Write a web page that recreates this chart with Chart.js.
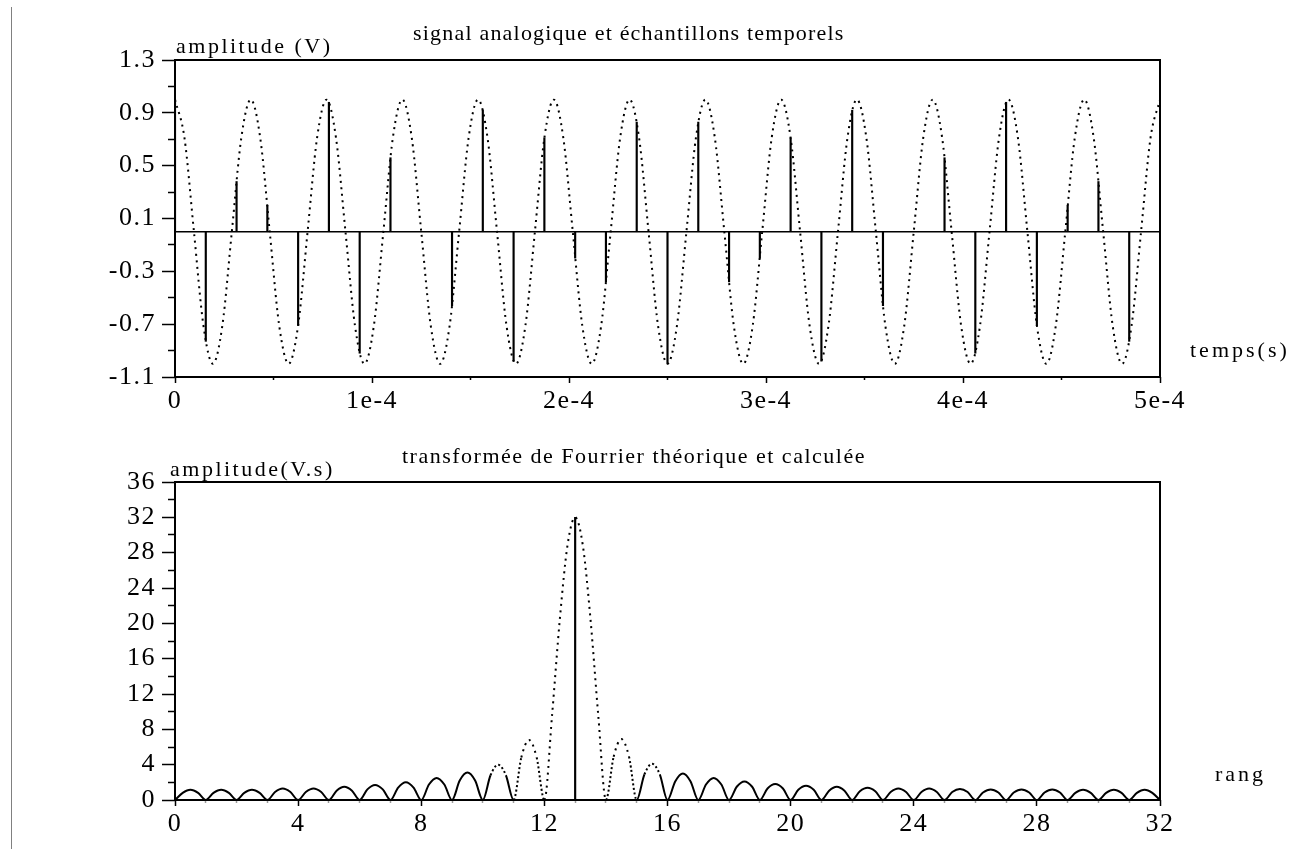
<!DOCTYPE html>
<html lang="fr">
<head>
<meta charset="UTF-8">
<title>Signal analogique et TF</title>
<script src="https://cdn.jsdelivr.net/npm/chart.js"></script>
<style>
  body { margin: 0; background: #fff; }
  #page { position: relative; width: 1307px; height: 849px; overflow: hidden; background: #fff; }
  .bloc { position: absolute; left: 0; width: 1307px; }
  #haut { top: 0; height: 425px; }
  #bas { top: 425px; height: 424px; }
  #trait { position: absolute; left: 11px; top: 7px; width: 1px; height: 842px; background: #808080; }
</style>
</head>
<body>
<div id="page">
  <div id="trait"></div>
  <div class="bloc" id="haut"><canvas id="chartHaut"></canvas></div>
  <div class="bloc" id="bas"><canvas id="chartBas"></canvas></div>
</div>
<script>
// --- données ---

// signal analogique : une valeur tous les 1/8 de période, 13 périodes sur 5e-4 s
const pasSignal = 5e-4 / 104;
const signalAnalogique = [
  1, 0.71, 0, -0.71, -1, -0.71, 0, 0.71,
  1, 0.71, 0, -0.71, -1, -0.71, 0, 0.71,
  1, 0.71, 0, -0.71, -1, -0.71, 0, 0.71,
  1, 0.71, 0, -0.71, -1, -0.71, 0, 0.71,
  1, 0.71, 0, -0.71, -1, -0.71, 0, 0.71,
  1, 0.71, 0, -0.71, -1, -0.71, 0, 0.71,
  1, 0.71, 0, -0.71, -1, -0.71, 0, 0.71,
  1, 0.71, 0, -0.71, -1, -0.71, 0, 0.71,
  1, 0.71, 0, -0.71, -1, -0.71, 0, 0.71,
  1, 0.71, 0, -0.71, -1, -0.71, 0, 0.71,
  1, 0.71, 0, -0.71, -1, -0.71, 0, 0.71,
  1, 0.71, 0, -0.71, -1, -0.71, 0, 0.71,
  1, 0.71, 0, -0.71, -1, -0.71, 0, 0.71,
  1
];

// échantillons : 32 points sur 5e-4 s
const pasEch = 5e-4 / 32;
const echantillons = [
  1, -0.83, 0.38, 0.2, -0.71, 0.98, -0.92, 0.56,
  0, -0.56, 0.92, -0.98, 0.71, -0.2, -0.38, 0.83,
  -1, 0.83, -0.38, -0.2, 0.71, -0.98, 0.92, -0.56,
  0, 0.56, -0.92, 0.98, -0.71, 0.2, 0.38, -0.83
];

// TF théorique : une valeur tous les 1/4 de rang, de 0 à 32
const pasTF = 0.25;
const tfTheorique = [
  0, 0.8, 1.15, 0.8,
  0, 0.8, 1.15, 0.8,
  0, 0.8, 1.15, 0.8,
  0, 0.9, 1.3, 0.9,
  0, 0.9, 1.3, 0.9,
  0, 1.05, 1.5, 1.05,
  0, 1.2, 1.7, 1.2,
  0, 1.4, 2.0, 1.4,
  0, 1.75, 2.5, 1.75,
  0, 2.2, 3.1, 2.2,
  0, 2.8, 4.0, 2.8,
  0, 4.8, 6.8, 4.8,
  0, 9.6, 20.4, 28.8,
  32, 28.8, 20.4, 9.6,
  0, 4.9, 6.9, 4.9,
  0, 2.9, 4.1, 2.9,
  0, 2.1, 3.0, 2.1,
  0, 1.75, 2.5, 1.75,
  0, 1.5, 2.1, 1.5,
  0, 1.3, 1.8, 1.3,
  0, 1.15, 1.6, 1.15,
  0, 1.05, 1.5, 1.05,
  0, 1.0, 1.4, 1.0,
  0, 0.9, 1.3, 0.9,
  0, 0.9, 1.3, 0.9,
  0, 0.9, 1.25, 0.9,
  0, 0.85, 1.2, 0.85,
  0, 0.85, 1.2, 0.85,
  0, 0.85, 1.2, 0.85,
  0, 0.8, 1.15, 0.8,
  0, 0.8, 1.15, 0.8,
  0, 0.8, 1.15, 0.8,
  0
];

// TF calculée (rangs 0 à 31)
const tfCalculee = [
  0, 0, 0, 0, 0, 0, 0, 0,
  0, 0, 0, 0, 0, 32, 0, 0,
  0, 0, 0, 0, 0, 0, 0, 0,
  0, 0, 0, 0, 0, 0, 0, 0
];

// graduations
const ticksTempsMaj = [0, 1e-4, 2e-4, 3e-4, 4e-4, 5e-4];
const labelsTemps = ['0', '1e-4', '2e-4', '3e-4', '4e-4', '5e-4'];
const ticksTempsMin = [0.5e-4, 1.5e-4, 2.5e-4, 3.5e-4, 4.5e-4];
const ticksAmpMaj = [-1.1, -0.7, -0.3, 0.1, 0.5, 0.9, 1.3];
const ticksAmpMin = [-0.9, -0.5, -0.1, 0.3, 0.7, 1.1];
const ticksRangMaj = [0, 4, 8, 12, 16, 20, 24, 28, 32];
const ticksRangMin = [1, 2, 3, 5, 6, 7, 9, 10, 11, 13, 14, 15, 17, 18, 19, 21, 22, 23, 25, 26, 27, 29, 30, 31];
const ticksTFMaj = [0, 4, 8, 12, 16, 20, 24, 28, 32, 36];
const ticksTFMin = [2, 6, 10, 14, 18, 22, 26, 30, 34];

// --- réglages communs ---
Chart.defaults.font.family = "'Liberation Serif', 'Times New Roman', serif";
Chart.defaults.font.size = 26;
Chart.defaults.color = '#000';

function fixeTicks(maj, mineurs) {
  return scale => {
    scale.ticks = maj.concat(mineurs).sort((a, b) => a - b).map(v => ({ value: v }));
  };
}

function estMajeur(c, maj) {
  return c.tick && maj.includes(c.tick.value);
}

function axeY(min, max, maj, mineurs) {
  return {
    type: 'linear', min: min, max: max,
    afterBuildTicks: fixeTicks(maj, mineurs),
    afterFit: s => { s.width = 175; },
    ticks: { autoSkip: false, padding: 6, callback: v => maj.includes(v) ? String(v) : '' },
    grid: {
      drawOnChartArea: false, tickLength: 13, tickColor: '#000', tickWidth: 1.5,
      tickBorderDash: c => estMajeur(c, maj) ? [] : [0, 6, 8, 100]
    },
    border: { display: false }
  };
}

function axeX(min, max, maj, mineurs, labels, hauteur, couleurMin) {
  return {
    type: 'linear', min: min, max: max, offset: false,
    afterBuildTicks: fixeTicks(maj, mineurs),
    afterFit: s => { s.height = hauteur; },
    ticks: {
      autoSkip: false, maxRotation: 0, padding: 3,
      callback: v => { const i = maj.indexOf(v); return i < 0 ? '' : labels[i]; }
    },
    grid: {
      offset: false, drawOnChartArea: false, tickLength: 6, tickWidth: 1.5,
      tickColor: c => estMajeur(c, maj) ? '#000' : couleurMin,
      tickBorderDash: c => estMajeur(c, maj) ? [] : [3, 100]
    },
    border: { display: false }
  };
}

function pluginCadre(ligneZero) {
  return {
    id: 'cadre',
    beforeDraw(chart) {
      chart.ctx.letterSpacing = '1.5px';
    },
    beforeDatasetsDraw(chart) {
      if (!ligneZero) return;
      const a = chart.chartArea, ctx = chart.ctx;
      const y0 = chart.scales.y.getPixelForValue(0);
      ctx.save();
      ctx.strokeStyle = '#000';
      ctx.lineWidth = 1.5;
      ctx.beginPath();
      ctx.moveTo(a.left, y0);
      ctx.lineTo(a.right, y0);
      ctx.stroke();
      ctx.restore();
    },
    afterDraw(chart) {
      const a = chart.chartArea, ctx = chart.ctx;
      ctx.save();
      ctx.strokeStyle = '#000';
      ctx.lineWidth = 2;
      ctx.strokeRect(a.left, a.top, a.right - a.left, a.bottom - a.top);
      ctx.restore();
    }
  };
}

function pluginTextes(textes) {
  return {
    id: 'textes',
    afterDraw(chart) {
      const ctx = chart.ctx;
      ctx.save();
      ctx.fillStyle = '#000';
      ctx.textAlign = 'left';
      ctx.textBaseline = 'alphabetic';
      textes.forEach(t => {
        ctx.font = t.taille + "px 'Liberation Serif'";
        ctx.letterSpacing = t.espace + 'px';
        ctx.fillText(t.texte, t.x, t.y);
      });
      ctx.restore();
    }
  };
}

// --- graphe du haut : signal et échantillons ---
new Chart(document.getElementById('chartHaut'), {
  type: 'line',
  data: {
    datasets: [
      {
        type: 'line',
        data: signalAnalogique.map((v, i) => ({ x: i * pasSignal, y: v })),
        borderColor: '#000',
        borderWidth: 2,
        borderDash: [2, 4.5],
        pointRadius: 0,
        cubicInterpolationMode: 'monotone',
        fill: false
      },
      {
        type: 'bar',
        data: echantillons.map((v, i) => ({ x: i * pasEch, y: v })),
        backgroundColor: '#000',
        barThickness: 1.5,
        grouped: false
      }
    ]
  },
  options: {
    responsive: true,
    maintainAspectRatio: false,
    animation: false,
    events: [],
    layout: { padding: { left: 0, right: 147, top: 60, bottom: 0 } },
    plugins: { legend: { display: false }, tooltip: { enabled: false } },
    scales: {
      x: axeX(0, 5e-4, ticksTempsMaj, ticksTempsMin, labelsTemps, 48, '#000'),
      y: axeY(-1.1, 1.3, ticksAmpMaj, ticksAmpMin)
    }
  },
  plugins: [
    pluginCadre(true),
    pluginTextes([
      { texte: 'signal analogique et échantillons temporels', x: 413, y: 40, taille: 22, espace: 1.2 },
      { texte: 'amplitude (V)', x: 176, y: 53, taille: 22, espace: 2.5 },
      { texte: 'temps(s)', x: 1190, y: 357, taille: 22, espace: 3 }
    ])
  ]
});

// --- graphe du bas : transformée de Fourier ---
new Chart(document.getElementById('chartBas'), {
  type: 'line',
  data: {
    datasets: [
      {
        type: 'line',
        data: tfTheorique.map((v, i) => ({ x: i * pasTF, y: v })),
        borderColor: '#000',
        borderWidth: 2,
        borderDash: [2, 4.5],
        pointRadius: 0,
        cubicInterpolationMode: 'monotone',
        fill: false,
        segment: {
          borderDash: c => {
            const m = Math.max(c.p0.parsed.y, c.p1.parsed.y);
            if (m < 3.5) return [];
            if (m < 5) return [2, 2.5];
            return undefined;
          }
        }
      },
      {
        type: 'bar',
        data: tfCalculee.map((v, i) => ({ x: i, y: v })),
        backgroundColor: '#000',
        barThickness: 1.5,
        grouped: false
      }
    ]
  },
  options: {
    responsive: true,
    maintainAspectRatio: false,
    animation: false,
    events: [],
    layout: { padding: { left: 0, right: 147, top: 57, bottom: 0 } },
    plugins: { legend: { display: false }, tooltip: { enabled: false } },
    scales: {
      x: axeX(0, 32, ticksRangMaj, ticksRangMin, ticksRangMaj.map(String), 49, '#999'),
      y: axeY(0, 36, ticksTFMaj, ticksTFMin)
    }
  },
  plugins: [
    pluginCadre(false),
    pluginTextes([
      { texte: 'transformée de Fourrier théorique et calculée', x: 402, y: 38, taille: 22, espace: 1.5 },
      { texte: 'amplitude(V.s)', x: 170, y: 51, taille: 22, espace: 2.5 },
      { texte: 'rang', x: 1215, y: 356, taille: 22, espace: 3 }
    ])
  ]
});
</script>
</body>
</html>
